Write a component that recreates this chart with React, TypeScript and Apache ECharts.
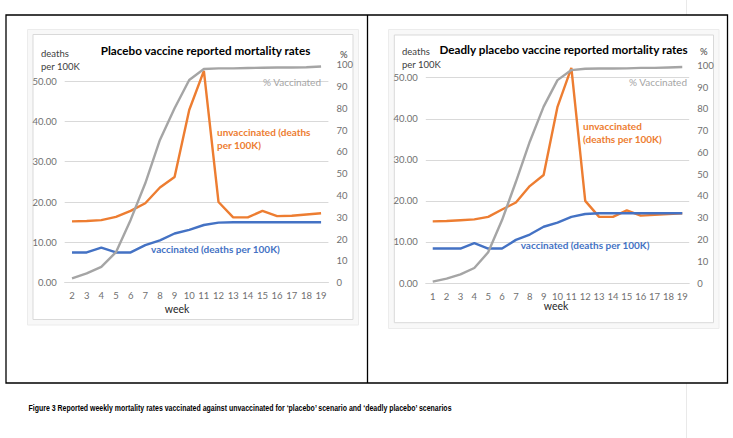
import React, { useEffect, useRef } from "react";
import * as echarts from "echarts";

const weeksA = ["2","3","4","5","6","7","8","9","10","11","12","13","14","15","16","17","18","19"];
const unvaxA = [15.2,15.3,15.5,16.3,17.8,19.7,23.6,26.2,42.8,52.5,20.0,16.2,16.2,17.8,16.5,16.6,16.9,17.2];
const vaxA = [7.5,7.5,8.7,7.5,7.5,9.3,10.5,12.2,13.1,14.3,14.9,15.0,15.0,15.0,15.0,15.0,15.0,15.0];
const pctA = [2.0,4.3,7.3,14.0,28.8,45.6,65.5,80.0,93.0,98.0,98.3,98.3,98.5,98.6,98.7,98.7,98.8,99.2];

const weeksB = ["1","2","3","4","5","6","7","8","9","10","11","12","13","14","15","16","17","18","19"];
const unvaxB = [15.0,15.1,15.3,15.5,16.1,17.9,19.6,23.6,26.3,42.9,52.4,20.0,16.1,16.1,17.7,16.4,16.6,16.8,17.0];
const vaxB = [8.4,8.4,8.4,9.7,8.4,8.4,10.5,11.8,13.7,14.7,16.1,16.8,17.0,17.0,17.0,17.0,17.0,17.0,17.0];
const pctB = [0.6,2.0,4.0,6.9,14.1,28.9,46.5,64.9,81.0,93.2,97.8,98.4,98.5,98.5,98.6,98.8,98.8,99.0,99.2];

const FONT = "Lato";
const ORANGE = "#ED7D31";
const BLUE = "#4472C4";
const GRAY = "#A5A5A5";
const GRID = "#d9d9d9";
const LABEL = "#707070";

export default function App() {
  const ref = useRef<HTMLDivElement>(null);
  useEffect(() => {
    document.body.style.margin = "0";
    const chart = echarts.init(ref.current!, null, { renderer: "svg" });
    const W = 733, H = 438;
    const gA = { left: 64.7, right: W - 328.4 };
    const gB = { left: 425.8, right: W - 689.2 };
    const xBase = (gi: number, data: string[], show: boolean) => ({
      gridIndex: gi,
      type: "category",
      data,
      boundaryGap: true,
      show,
      axisLine: { show: true, lineStyle: { color: GRID, width: 1 } },
      axisTick: { show: false },
      axisLabel: { color: LABEL, fontSize: 9.5, fontFamily: FONT, margin: 8, interval: 0 },
    });
    const yLeft = (gi: number) => ({
      gridIndex: gi,
      type: "value",
      min: 0,
      max: 50,
      interval: 10,
      axisLine: { show: false },
      axisTick: { show: false },
      splitLine: { lineStyle: { color: GRID, width: 1 } },
      axisLabel: {
        color: LABEL,
        fontSize: 9.5,
        fontFamily: FONT,
        margin: 8,
        formatter: (v: number) => v.toFixed(2),
      },
    });
    const yRight = (gi: number) => ({
      gridIndex: gi,
      type: "value",
      min: 0,
      max: 100,
      interval: 10,
      position: "right",
      axisLine: { show: false },
      axisTick: { show: false },
      splitLine: { show: false },
      axisLabel: { color: LABEL, fontSize: 9.5, fontFamily: FONT, margin: 8 },
    });
    const line = (name: string, data: number[], color: string, xi: number, yi: number, z: number) => ({
      name,
      type: "line",
      data,
      xAxisIndex: xi,
      yAxisIndex: yi,
      symbol: "none",
      clip: false,
      z,
      lineStyle: { color, width: 2.4 },
    });
    const txt = (x: number, y: number, text: string, opts: any = {}, extra: any = {}) => ({
      type: "text",
      x,
      y,
      z: 10,
      ...extra,
      style: {
        text,
        fontFamily: FONT,
        fontSize: 10,
        fill: "#404040",
        textVerticalAlign: "middle",
        verticalAlign: "middle",
        ...opts,
      },
    });
    const box = (x0: number, y0: number, x1: number, y1: number, ix0: number, iy0: number, ix1: number, iy1: number) => [
      {
        type: "rect",
        z: -2,
        shape: { x: x0, y: y0, width: x1 - x0, height: y1 - y0 },
        style: { fill: "#f8f8f8", stroke: "#ececec", lineWidth: 1 },
      },
      {
        type: "rect",
        z: -1,
        shape: { x: ix0, y: iy0, width: ix1 - ix0, height: iy1 - iy0 },
        style: { fill: "#ffffff", stroke: "#d9d9d9", lineWidth: 1 },
      },
    ];
    chart.setOption({
      animation: false,
      backgroundColor: "#ffffff",
      grid: [
        { ...gA, top: 81, bottom: H - 282.7 },
        { ...gA, top: 64.7, bottom: H - 282.7 },
        { ...gB, top: 77.7, bottom: H - 283 },
        { ...gB, top: 65.3, bottom: H - 283 },
      ],
      xAxis: [
        xBase(0, weeksA, true),
        xBase(1, weeksA, false),
        xBase(2, weeksB, true),
        xBase(3, weeksB, false),
      ],
      yAxis: [yLeft(0), yRight(1), yLeft(2), yRight(3)],
      series: [
        line("unvaccinated (deaths per 100K)", unvaxA, ORANGE, 0, 0, 3),
        line("vaccinated (deaths per 100K)", vaxA, BLUE, 0, 0, 3),
        line("% Vaccinated", pctA, GRAY, 1, 1, 4),
        line("unvaccinated (deaths per 100K)", unvaxB, ORANGE, 2, 2, 3),
        line("vaccinated (deaths per 100K)", vaxB, BLUE, 2, 2, 3),
        line("% Vaccinated", pctB, GRAY, 3, 3, 4),
      ],
      graphic: [
        {
          type: "line",
          z: -3,
          shape: { x1: 686.5, y1: 0, x2: 686.5, y2: H },
          style: { stroke: "#e9e9e9", lineWidth: 1 },
        },
        {
          type: "rect",
          z: -3,
          shape: { x: 6, y: 15, width: 721.5, height: 368 },
          style: { fill: "#ffffff", stroke: "#000000", lineWidth: 1.3 },
        },
        {
          type: "line",
          z: -3,
          shape: { x1: 367.5, y1: 15, x2: 367.5, y2: 383 },
          style: { stroke: "#000000", lineWidth: 1.3 },
        },
        ...box(27.5, 29.5, 358.5, 325, 33, 34.5, 353, 319.5),
        ...box(388.5, 29.5, 719, 328.5, 394.3, 35, 713.5, 322.7),
        // left chart texts
        txt(205.5, 50, "Placebo vaccine reported mortality rates", { fontWeight: "bold", fontSize: 11.7, fill: "#000000", align: "center", textAlign: "center" }),
        txt(41, 53, "deaths", { fontSize: 9.5 }),
        txt(41, 66, "per 100K", { fontSize: 9.5 }),
        txt(340, 54, "%", { fontSize: 9.5 }),
        txt(321, 82, "% Vaccinated", { fill: GRAY, align: "right", textAlign: "right" }),
        txt(217, 132, "unvaccinated (deaths", { fill: ORANGE, fontWeight: "bold" }),
        txt(217, 145, "per 100K)", { fill: ORANGE, fontWeight: "bold" }),
        txt(151, 249, "vaccinated (deaths per 100K)", { fill: BLUE, fontWeight: "bold" }),
        txt(177, 309, "week", { fontSize: 10.5, fill: "#262626", align: "center", textAlign: "center" }),
        // right chart texts
        txt(563.6, 49.3, "Deadly placebo vaccine reported mortality rates", { fontWeight: "bold", fontSize: 11.7, fill: "#000000", align: "center", textAlign: "center" }),
        txt(402, 51, "deaths", { fontSize: 9.5 }),
        txt(402, 64.5, "per 100K", { fontSize: 9.5 }),
        txt(700, 51, "%", { fontSize: 9.5 }),
        txt(687, 81.7, "% Vaccinated", { fill: GRAY, align: "right", textAlign: "right" }),
        txt(583, 126, "unvaccinated", { fill: ORANGE, fontWeight: "bold" }),
        txt(583, 139.3, "(deaths per 100K)", { fill: ORANGE, fontWeight: "bold" }),
        txt(520.7, 245, "vaccinated (deaths per 100K)", { fill: BLUE, fontWeight: "bold" }),
        txt(556, 306, "week", { fontSize: 10.5, fill: "#262626", align: "center", textAlign: "center" }),
        // caption
        txt(28.5, 408, "Figure 3 Reported weekly mortality rates vaccinated against unvaccinated for \u2018placebo\u2019 scenario and \u2018deadly placebo\u2019 scenarios", {
          fontFamily: "Liberation Sans",
          fontWeight: "bold",
          fontSize: 8.5,
          fill: "#000000",
        }, { scaleX: 0.82 }),
      ],
    });
    return () => chart.dispose();
  }, []);
  return <div ref={ref} style={{ width: 733, height: 438 }} />;
}
